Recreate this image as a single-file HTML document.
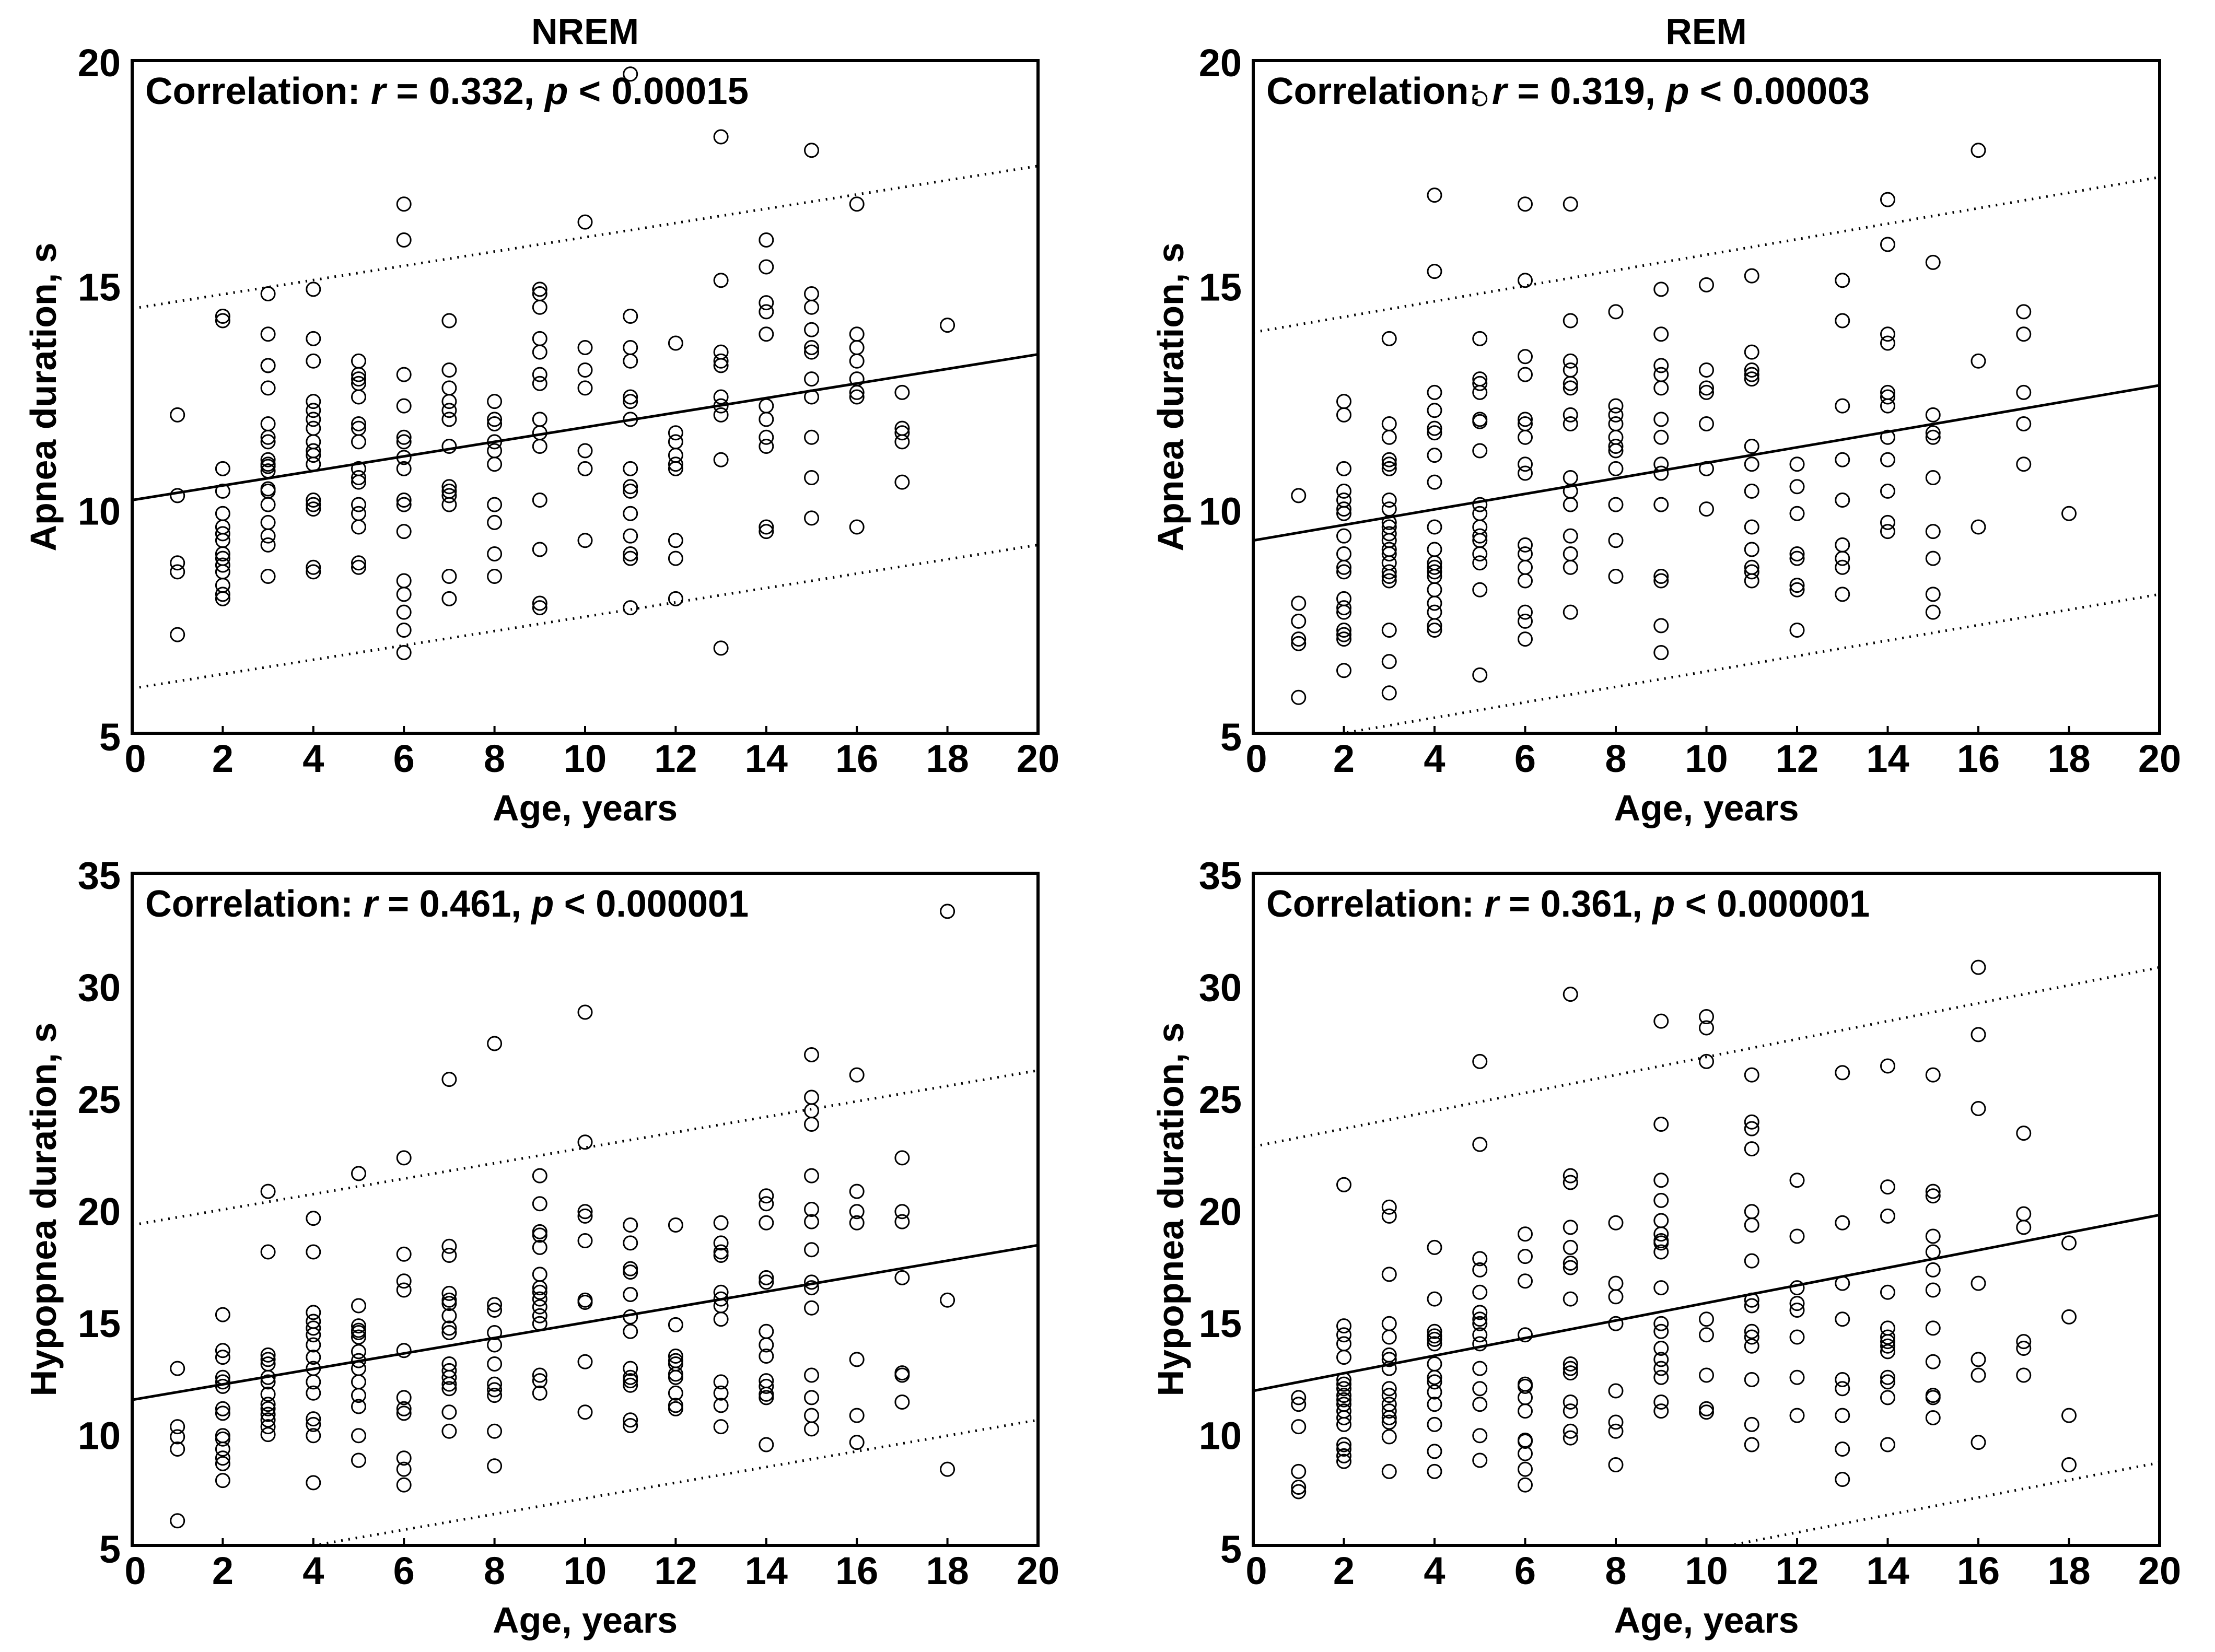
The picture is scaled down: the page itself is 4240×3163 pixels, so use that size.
<!DOCTYPE html>
<html><head><meta charset="utf-8"><style>
html,body{margin:0;padding:0;background:#fff;}
svg{display:block;}
.tick{font-family:"Liberation Sans Narrow","Liberation Sans",sans-serif;font-weight:bold;font-size:74px;fill:#000;}
.corr{font-family:"Liberation Sans Narrow","Liberation Sans",sans-serif;font-weight:bold;font-size:72px;fill:#000;}
.atitle{font-family:"Liberation Sans",sans-serif;font-weight:bold;font-size:70px;fill:#000;}
</style></head><body>
<svg id="fig" width="4240" height="3163" viewBox="0 0 4240 3163" xmlns="http://www.w3.org/2000/svg">
<text class="atitle" x="1120" y="84" text-anchor="middle">NREM</text>
<text class="atitle" x="3266" y="84" text-anchor="middle">REM</text>
</svg>
<script>
const ages = [1,2,3,4,5,6,7,8,9,10,11,12,13,14,15,16,17,18];
const nremApnea = [
[12.1,10.3,8.8,8.6,7.2],
[14.3,14.2,10.9,10.4,9.9,9.6,9.45,9.3,9.0,8.9,8.75,8.6,8.3,8.1,8.0],
[14.8,13.9,13.2,13.2,12.7,11.9,11.6,11.5,11.1,11.0,10.95,10.85,10.45,10.4,10.1,9.7,9.4,9.2,8.5],
[14.9,13.8,13.3,12.4,12.2,12.0,11.8,11.5,11.3,11.2,11.0,10.2,10.1,10.0,8.7,8.6],
[13.3,13.0,12.9,12.8,12.5,11.9,11.8,11.5,10.9,10.7,10.6,10.1,9.9,9.6,8.8,8.7],
[16.8,16.0,13.0,12.3,11.6,11.5,11.15,10.9,10.2,10.1,9.5,8.4,8.1,7.7,7.3,6.8],
[14.2,13.1,12.7,12.4,12.2,12.0,11.4,10.5,10.4,10.3,10.1,8.5,8.0],
[12.4,12.0,11.9,11.5,11.3,11.0,10.1,9.7,9.0,8.5],
[14.9,14.8,14.5,13.8,13.5,13.0,12.8,12.0,11.7,11.4,10.2,9.1,7.9,7.8],
[16.4,13.6,13.1,12.7,11.3,10.9,9.3],
[19.7,14.3,13.6,13.3,12.5,12.4,12.0,10.9,10.5,10.4,9.9,9.4,9.0,8.9,7.8],
[13.7,11.7,11.5,11.2,11.0,10.9,9.3,8.9,8.0],
[18.3,15.1,13.5,13.3,13.2,12.5,12.3,12.1,11.1,6.9],
[16.0,15.4,14.6,14.4,13.9,12.3,12.0,11.6,11.4,9.6,9.5],
[18.0,14.8,14.5,14.0,13.6,13.5,12.9,12.5,11.6,10.7,9.8],
[16.8,13.9,13.6,13.3,12.9,12.6,12.5,9.6],
[12.6,11.8,11.7,11.5,10.6],
[14.1]];
const remApnea = [
[10.3,7.9,7.5,7.1,7.0,5.8],
[12.4,12.1,10.9,10.4,10.2,10.0,9.9,9.4,9.0,8.7,8.6,8.0,7.8,7.7,7.3,7.2,7.1,6.4],
[13.8,11.9,11.6,11.1,11.0,10.9,10.2,10.0,9.7,9.6,9.45,9.3,9.1,9.0,8.8,8.6,8.5,8.4,7.3,6.6,5.9],
[17.0,15.3,12.6,12.2,11.8,11.7,11.2,10.6,9.6,9.1,8.8,8.7,8.6,8.5,8.2,7.9,7.7,7.4,7.3],
[19.15,13.8,12.9,12.8,12.6,12.0,11.95,11.3,10.1,9.9,9.6,9.4,9.3,9.0,8.8,8.2,6.3],
[16.8,15.1,13.4,13.0,12.0,11.9,11.6,11.0,10.8,9.2,9.0,8.7,8.4,7.7,7.5,7.1],
[16.8,14.2,13.3,13.1,12.8,12.7,12.1,11.9,10.7,10.4,10.1,9.4,9.0,8.7,7.7],
[14.4,12.3,12.1,11.9,11.6,11.4,11.3,10.9,10.1,9.3,8.5],
[14.9,13.9,13.2,13.0,12.7,12.0,11.6,11.0,10.8,10.1,8.5,8.4,7.4,6.8],
[15.0,13.1,12.7,12.6,11.9,10.9,10.0],
[15.2,13.5,13.1,13.0,12.9,11.4,11.0,10.4,9.6,9.1,8.7,8.6,8.4],
[11.0,10.5,9.9,9.0,8.9,8.3,8.2,7.3],
[15.1,14.2,12.3,11.1,10.2,9.2,8.9,8.7,8.1],
[16.9,15.9,13.9,13.7,12.6,12.5,12.3,11.6,11.1,10.4,9.7,9.5],
[15.5,12.1,11.7,11.6,10.7,9.5,8.9,8.1,7.7],
[18.0,13.3,9.6],
[14.4,13.9,12.6,11.9,11.0],
[9.9]];
const nremHypopnea = [
[12.9,10.3,9.85,9.3,6.1],
[15.3,13.7,13.4,12.5,12.3,12.1,11.1,10.9,9.9,9.75,9.3,8.9,8.65,7.9],
[20.8,18.1,13.5,13.3,13.1,12.5,12.3,11.75,11.3,11.1,10.85,10.6,10.3,9.95],
[19.6,18.1,15.4,15.0,14.7,14.4,13.95,13.4,12.9,12.3,11.8,10.65,10.4,9.9,7.8],
[21.6,15.7,14.8,14.6,14.5,14.3,13.65,13.25,12.9,12.3,11.7,11.2,9.9,8.8],
[22.3,18.0,16.8,16.4,13.7,11.6,11.1,10.9,8.9,8.4,7.7],
[25.8,18.35,17.95,16.25,15.95,15.8,15.25,14.7,14.5,13.1,12.8,12.5,12.2,12.0,10.95,10.1],
[27.4,15.75,15.5,14.5,13.95,13.1,12.2,11.95,11.7,10.1,8.55],
[21.5,20.25,19.0,18.85,18.3,17.1,16.5,16.3,16.0,15.65,15.25,14.9,12.6,12.35,11.8],
[28.8,23.0,19.9,19.7,18.6,15.95,15.85,13.2,10.95],
[19.3,18.5,17.35,17.2,16.2,15.2,14.55,12.9,12.5,12.35,12.15,10.6,10.35],
[19.3,14.85,13.45,13.25,13.1,12.65,12.5,11.8,11.25,11.1],
[19.4,18.5,18.1,17.95,16.3,16.0,15.7,15.1,12.3,11.8,11.25,10.3],
[20.6,20.25,19.4,16.95,16.75,14.55,13.95,13.45,12.35,12.1,11.75,11.6,9.5],
[26.9,25.0,24.4,23.8,21.5,20.0,19.45,18.2,16.75,16.5,15.6,12.6,11.6,10.8,10.2],
[26.0,20.8,19.9,19.4,13.3,10.8,9.6],
[22.3,19.9,19.45,16.95,12.7,12.6,11.4],
[33.3,15.95,8.4]];
const remHypopnea = [
[11.6,11.3,10.3,8.3,7.6,7.4],
[21.1,14.8,14.4,14.0,13.4,12.4,12.2,12.0,11.7,11.5,11.3,11.0,10.7,10.4,9.5,9.3,9.0,8.75],
[20.1,19.7,17.1,14.9,14.3,13.5,13.3,12.9,12.0,11.7,11.3,11.0,10.7,10.5,9.85,8.3],
[18.3,16.0,14.55,14.35,14.2,14.0,13.1,12.5,12.3,11.85,11.3,10.4,9.2,8.3],
[26.6,22.9,17.8,17.3,16.3,15.4,15.1,14.9,14.4,14.0,12.9,12.0,11.3,9.9,8.8],
[18.9,17.9,16.8,14.4,12.2,12.1,11.6,11.0,9.7,9.65,9.1,8.4,7.7],
[29.6,21.5,21.2,19.2,18.3,17.6,17.4,16.0,13.1,12.9,12.7,11.4,11.0,10.1,9.8],
[19.4,16.7,16.1,14.9,11.9,10.5,10.1,8.6],
[28.4,23.8,21.3,20.4,19.5,18.9,18.6,18.5,18.1,16.5,14.9,14.55,13.8,13.3,12.9,12.5,11.4,11.0],
[28.6,28.1,26.6,15.1,14.4,12.6,11.1,10.95],
[26.0,23.9,23.6,22.7,19.9,19.3,17.7,15.95,15.7,14.55,14.3,13.9,12.4,10.4,9.5],
[21.3,18.8,16.5,15.8,15.5,14.3,12.5,10.8],
[26.1,19.4,16.7,15.1,12.4,12.0,10.8,9.3,7.95],
[26.4,21.0,19.7,16.3,14.7,14.3,14.1,13.9,13.65,12.5,12.3,11.6,9.5],
[26.0,20.8,20.6,18.8,18.1,17.3,16.4,14.7,13.2,11.7,11.6,10.7],
[30.8,27.8,24.5,16.7,13.3,12.6,9.6],
[23.4,19.8,19.2,14.1,13.8,12.6],
[18.5,15.2,10.8,8.6]];
// regression lines [intercept, slope]: fit, upper, lower
const nremApneaFit = [10.2,0.1625], nremApneaUpper = [14.47,0.159], nremApneaLower = [6.0,0.16];
const remApneaFit = [9.3,0.173], remApneaUpper = [13.94,0.173], remApneaLower = [4.66,0.172];
const nremHypFit = [11.5,0.345], nremHypUpper = [19.3,0.345], nremHypLower = [3.6,0.35];
const remHypFit = [11.9,0.3925], remHypUpper = [22.8,0.4], remHypLower = [0.9,0.39];
const xTicks = [0,2,4,6,8,10,12,14,16,18,20];
const apneaTicks = [5,10,15,20];
const hypTicks = [5,10,15,20,25,30,35];

const NS = "http://www.w3.org/2000/svg";
const svg = document.getElementById('fig');
function mk(tag, attrs, parent){const e=document.createElementNS(NS,tag);for(const k in attrs)e.setAttribute(k,attrs[k]);(parent||svg).appendChild(e);return e;}

const panels = [
 {id:'nrem-apnea', L:253,R:1987,T:116,B:1404, ymin:5,ymax:20, yt:apneaTicks, data:nremApnea, fit:nremApneaFit, up:nremApneaUpper, lo:nremApneaLower, ytitle:'Apnea duration, s', r:'0.332', p:'0.00015', tx:82},
 {id:'rem-apnea', L:2399,R:4134,T:116,B:1404, ymin:5,ymax:20, yt:apneaTicks, data:remApnea, fit:remApneaFit, up:remApneaUpper, lo:remApneaLower, ytitle:'Apnea duration, s', r:'0.319', p:'0.00003', tx:2240},
 {id:'nrem-hypopnea', L:253,R:1987,T:1672,B:2959, ymin:5,ymax:35, yt:hypTicks, data:nremHypopnea, fit:nremHypFit, up:nremHypUpper, lo:nremHypLower, ytitle:'Hypopnea duration, s', r:'0.461', p:'0.000001', tx:82},
 {id:'rem-hypopnea', L:2399,R:4134,T:1672,B:2959, ymin:5,ymax:35, yt:hypTicks, data:remHypopnea, fit:remHypFit, up:remHypUpper, lo:remHypLower, ytitle:'Hypopnea duration, s', r:'0.361', p:'0.000001', tx:2240}
];

panels.forEach((P,pi)=>{
  const g = mk('g',{});
  
  
  const xs = v => P.L + (v-0)/(20-0)*(P.R-P.L);
  const ys = v => P.B - (v-P.ymin)/(P.ymax-P.ymin)*(P.B-P.T);
  const cp = mk('clipPath',{id:'clip'+pi},g);
  mk('rect',{x:P.L,y:P.T,width:P.R-P.L,height:P.B-P.T},cp);
  [[P.fit,'fit',null],[P.up,'upper-bound','3 11'],[P.lo,'lower-bound','3 11']].forEach(([f,nm,dash])=>{
    const ln = mk('line',{x1:xs(0),y1:ys(f[0]),x2:xs(20),y2:ys(f[0]+f[1]*20),stroke:'#000','stroke-width':5,'clip-path':'url(#clip'+pi+')'},g);
    if(dash) ln.setAttribute('stroke-dasharray',dash);
    
    
  });
  P.data.forEach((vals,i)=>{
    vals.forEach(v=>{
      const c = mk('circle',{cx:xs(ages[i]),cy:ys(v),r:13,fill:'none',stroke:'#000','stroke-width':3},g);
      
      
    });
  });
  const fr = mk('rect',{x:P.L,y:P.T,width:P.R-P.L,height:P.B-P.T,fill:'none',stroke:'#000','stroke-width':6},g);
  
  
  xTicks.forEach(t=>{
    const tk = mk('line',{x1:xs(t),x2:xs(t),y1:P.B,y2:P.B-14,stroke:'#000','stroke-width':4},g);
    
    
    const tl = mk('text',{x:xs(t)+(t===0?6:0),y:P.B+74,'text-anchor':'middle',class:'tick'},g);
    tl.textContent = t;
    
    
  });
  P.yt.forEach(t=>{
    const tl = mk('text',{x:P.L-22,y:ys(t)+(t===P.ymin?33:30),'text-anchor':'end',class:'tick'},g);
    tl.textContent = t;
    
    
  });
  const xt = mk('text',{x:(P.L+P.R)/2,y:P.B+167,'text-anchor':'middle',class:'atitle'},g);
  xt.textContent = 'Age, years';
  
  
  const cy = (P.T+P.B)/2;
  const yt = mk('text',{x:P.tx,y:cy,'text-anchor':'middle',class:'atitle',transform:'rotate(-90 '+P.tx+' '+cy+')',dy:'25'},g);
  yt.textContent = P.ytitle;
  
  
  const ct = mk('text',{x:P.L+25,y:P.T+83,class:'corr',textLength:'1155',lengthAdjust:'spacingAndGlyphs'},g);
  
  
  ct.appendChild(document.createTextNode('Correlation: '));
  const ri = mk('tspan',{'font-style':'italic'},ct); ri.textContent='r';
  ct.appendChild(document.createTextNode(' = '+P.r+', '));
  const pi2 = mk('tspan',{'font-style':'italic'},ct); pi2.textContent='p';
  ct.appendChild(document.createTextNode(' < '+P.p));
});
</script>
</body></html>
